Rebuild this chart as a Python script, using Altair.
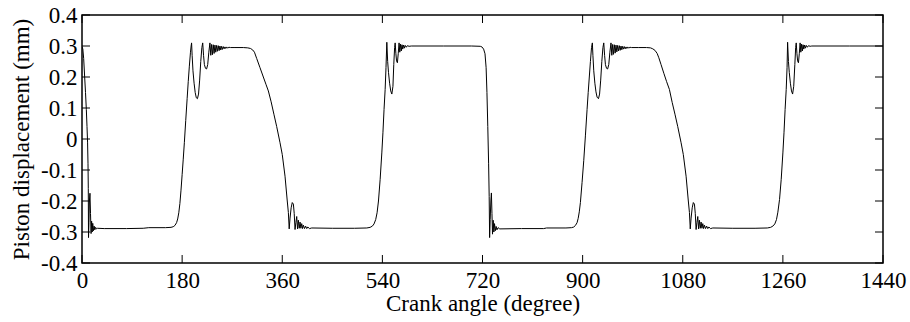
import altair as alt
import pandas as pd

# ---- data (crank angle in degrees, displacement in mm) ----
seg_drop_0 = [(0, 0.298), (1.5, 0.29), (3, 0.26), (4.8, 0.2), (6.3, 0.15), (7.8, 0.095), (9, 0.04),
              (10, -0.01), (10.8, -0.08), (11.3, -0.16), (11.7, -0.318), (12.5, -0.27), (13.3, -0.2),
              (14.3, -0.175), (15.3, -0.24), (16.3, -0.305), (17.3, -0.265), (18.3, -0.3), (19.3, -0.272),
              (20.5, -0.296), (21.8, -0.281), (23, -0.293), (24.5, -0.285), (26, -0.29), (28, -0.288)]
seg_rise_180 = [(40, -0.289), (80, -0.289), (110, -0.288), (120, -0.286), (150, -0.286), (160, -0.285),
                (164, -0.283), (167, -0.279), (170, -0.27), (172, -0.258), (174, -0.238), (176, -0.208),
                (178, -0.165), (180, -0.115), (182, -0.065), (184, -0.012), (186.5, 0.06), (189, 0.13),
                (191, 0.185), (193, 0.235), (195, 0.28), (196.2, 0.3), (197, 0.31)]
seg_ring_200 = [(198, 0.27), (199.5, 0.22), (201.5, 0.18), (203.5, 0.15), (205.5, 0.133), (207.5, 0.13),
                (209.5, 0.145), (211.5, 0.19), (213.5, 0.25), (215.5, 0.295), (217, 0.31), (218.5, 0.27),
                (220, 0.24), (222, 0.228), (224, 0.226), (226, 0.24), (228, 0.28), (230, 0.31),
                (231.5, 0.27), (233, 0.305), (234.5, 0.272), (236, 0.304), (237.5, 0.276), (239, 0.303),
                (240.5, 0.28), (242, 0.302), (243.5, 0.283), (245, 0.301), (246.5, 0.285), (248, 0.3),
                (249.5, 0.287), (251, 0.299), (252.5, 0.289), (254, 0.298), (255.5, 0.291), (257, 0.297),
                (258.5, 0.292), (260, 0.297), (262, 0.293), (264, 0.296), (267, 0.295)]
seg_fall_360 = [(275, 0.295), (290, 0.295), (298, 0.294), (303, 0.292), (307, 0.287), (310, 0.28),
                (314, 0.26), (320, 0.23), (326, 0.2), (331, 0.175), (335, 0.155), (340, 0.12),
                (345, 0.08), (350, 0.04), (356, -0.012), (360, -0.05), (365, -0.12), (369, -0.2),
                (371, -0.237), (372.5, -0.29)]
seg_ring_380 = [(374, -0.255), (376, -0.222), (378, -0.205), (380, -0.21), (381.5, -0.24), (383, -0.292),
                (384.5, -0.27), (386, -0.25), (387.5, -0.29), (389, -0.262), (390.5, -0.288),
                (392, -0.268), (393.5, -0.288), (395, -0.273), (396.5, -0.289), (398, -0.278),
                (400, -0.289), (402, -0.281), (404, -0.289), (406, -0.284), (409, -0.289), (413, -0.287)]
seg_rise_540 = [(450, -0.288), (490, -0.288), (512, -0.287), (518, -0.285), (522, -0.281), (525, -0.274),
                (528, -0.26), (530.5, -0.238), (533, -0.2), (536, -0.13), (539, -0.045), (541, 0.02),
                (543, 0.095), (545, 0.16), (546.5, 0.23), (548, 0.312)]
seg_ring_560 = [(549.5, 0.25), (551, 0.215), (553, 0.18), (555, 0.155), (557, 0.145), (559, 0.17),
                (560.5, 0.24), (562, 0.295), (563, 0.31), (564.3, 0.275), (565.5, 0.252), (567, 0.246),
                (568.5, 0.275), (570, 0.31), (571.3, 0.28), (572.6, 0.306), (574, 0.284), (575.3, 0.304),
                (576.6, 0.29), (578, 0.303), (579.5, 0.293), (581, 0.302), (583, 0.296), (585, 0.301),
                (588, 0.299), (592, 0.3)]
seg_drop_720 = [(650, 0.3), (700, 0.3), (716, 0.299), (719, 0.297), (722, 0.29), (724.5, 0.275),
                (726.5, 0.23), (728, 0.15), (729.5, 0.04), (731, -0.08), (732, -0.185), (732.8, -0.318),
                (733.8, -0.26), (735, -0.2), (736, -0.174), (737, -0.24), (738, -0.307), (739.2, -0.262),
                (740.4, -0.3), (741.6, -0.273), (743, -0.296), (744.5, -0.282), (746, -0.293),
                (748, -0.286), (751, -0.29)]
seg_rise_900 = [(790, -0.289), (830, -0.289), (835, -0.287), (870, -0.287), (880, -0.286), (884, -0.284),
                (887, -0.279), (890, -0.27), (892, -0.256), (894, -0.235), (896, -0.205), (899, -0.14),
                (902, -0.07), (905, 0.01), (908, 0.095), (910, 0.15), (912, 0.2), (914, 0.25),
                (916, 0.295), (917.5, 0.31)]
seg_ring_920 = [(918.5, 0.27), (920, 0.22), (922, 0.18), (924, 0.152), (926, 0.135), (928.5, 0.13),
                (930.5, 0.145), (932.5, 0.19), (934.5, 0.25), (936.5, 0.295), (938, 0.31), (939.5, 0.27),
                (941, 0.24), (943, 0.228), (945, 0.226), (947, 0.24), (949, 0.28), (951, 0.31),
                (952.5, 0.27), (954, 0.305), (955.5, 0.273), (957, 0.304), (958.5, 0.277), (960, 0.303),
                (961.5, 0.281), (963, 0.302), (964.5, 0.284), (966, 0.301), (967.5, 0.286), (969, 0.3),
                (970.5, 0.288), (972, 0.299), (973.5, 0.29), (975, 0.298), (976.5, 0.291), (978, 0.297),
                (979.5, 0.292), (981, 0.297), (983, 0.293), (985, 0.296), (988, 0.295)]
seg_fall_1080 = [(1000, 0.295), (1015, 0.295), (1022, 0.294), (1026, 0.291), (1030, 0.286), (1034, 0.276),
                 (1037, 0.262), (1041, 0.24), (1046, 0.212), (1051, 0.185), (1056, 0.16), (1061, 0.118),
                 (1066, 0.08), (1071, 0.04), (1077, -0.012), (1081, -0.05), (1086, -0.12), (1090, -0.2),
                 (1092, -0.237), (1093.5, -0.29)]
seg_ring_1100 = [(1095, -0.255), (1097, -0.222), (1099, -0.205), (1101, -0.21), (1102.5, -0.24),
                 (1104, -0.292), (1105.5, -0.27), (1107, -0.25), (1108.5, -0.29), (1110, -0.262),
                 (1111.5, -0.288), (1113, -0.268), (1114.5, -0.288), (1116, -0.273), (1117.5, -0.289),
                 (1119, -0.278), (1121, -0.289), (1123, -0.281), (1125, -0.289), (1127, -0.284),
                 (1130, -0.289), (1134, -0.287)]
seg_rise_1260 = [(1170, -0.288), (1210, -0.288), (1232, -0.287), (1238, -0.285), (1242, -0.281),
                 (1245.5, -0.274), (1248.5, -0.26), (1251, -0.236), (1254, -0.195), (1257, -0.13),
                 (1260, -0.045), (1262, 0.02), (1264, 0.095), (1266, 0.16), (1267.5, 0.23), (1268.5, 0.312)]
seg_ring_1280 = [(1270, 0.25), (1271.5, 0.215), (1273.5, 0.18), (1275.5, 0.155), (1277.5, 0.145),
                 (1279.5, 0.17), (1281.5, 0.24), (1283, 0.295), (1284, 0.31), (1285.3, 0.275),
                 (1286.5, 0.252), (1288, 0.246), (1289.5, 0.275), (1291, 0.31), (1292.3, 0.28),
                 (1293.6, 0.306), (1295, 0.284), (1296.3, 0.304), (1297.6, 0.29), (1299, 0.303),
                 (1300.5, 0.293), (1302, 0.302), (1304, 0.296), (1306, 0.301), (1309, 0.299),
                 (1312, 0.3), (1380, 0.3), (1440, 0.3)]

x_tick_values = [0, 180, 360, 540, 720, 900, 1080, 1260, 1440]
y_tick_values = [-0.4, -0.3, -0.2, -0.1, 0, 0.1, 0.2, 0.3, 0.4]

segments = [seg_drop_0, seg_rise_180, seg_ring_200, seg_fall_360, seg_ring_380, seg_rise_540,
            seg_ring_560, seg_drop_720, seg_rise_900, seg_ring_920, seg_fall_1080, seg_ring_1100,
            seg_rise_1260, seg_ring_1280]
df = pd.DataFrame({
    "angle": [p[0] for s in segments for p in s],
    "disp": [p[1] for s in segments for p in s],
})

W, H = 801, 248
FONT = "Liberation Serif"
FS = 23
TICK = 8

xscale = alt.Scale(domain=[0, 1440], nice=False, zero=False)
yscale = alt.Scale(domain=[-0.4, 0.4], nice=False, zero=False)

x_axis = alt.Axis(values=x_tick_values, title="Crank angle (degree)", ticks=False, domain=False,
                  grid=False, labelFont=FONT, labelFontSize=FS, labelColor="black",
                  labelPadding=24.5, labelBaseline="alphabetic", labelFlush=False,
                  labelOverlap=False, format="d",
                  titleFont=FONT, titleFontSize=FS, titleFontWeight="normal", titleColor="black",
                  titleBaseline="alphabetic", titleY=47.5)
y_axis = alt.Axis(values=y_tick_values, title="Piston displacement (mm)", ticks=False, domain=False,
                  grid=False, labelFont=FONT, labelFontSize=FS, labelColor="black",
                  labelPadding=5, labelOverlap=False, labelFlush=False,
                  labelExpr="abs(datum.value) < 1e-9 ? '0' : (datum.value < 0 ? '-' : '') + format(abs(datum.value), '.1f')",
                  titleFont=FONT, titleFontSize=FS, titleFontWeight="normal", titleColor="black",
                  titleX=-49, titleY=H / 2)

line = alt.Chart(df).mark_line(color="black", strokeWidth=1, clip=True).encode(
    x=alt.X("angle:Q", scale=xscale, axis=x_axis, title="Crank angle (degree)"),
    y=alt.Y("disp:Q", scale=yscale, axis=y_axis, title="Piston displacement (mm)"),
)

xt = pd.DataFrame({"angle": x_tick_values})
yt = pd.DataFrame({"disp": y_tick_values})

top_ticks = alt.Chart(xt).mark_rule(color="black", strokeWidth=1).encode(
    x=alt.X("angle:Q", scale=xscale, axis=x_axis, title="Crank angle (degree)"),
    y=alt.value(0), y2=alt.value(TICK))
bottom_ticks = alt.Chart(xt).mark_rule(color="black", strokeWidth=1).encode(
    x=alt.X("angle:Q", scale=xscale, axis=x_axis, title="Crank angle (degree)"),
    y=alt.value(H), y2=alt.value(H - TICK))
left_ticks = alt.Chart(yt).mark_rule(color="black", strokeWidth=1).encode(
    y=alt.Y("disp:Q", scale=yscale, axis=y_axis, title="Piston displacement (mm)"),
    x=alt.value(0), x2=alt.value(TICK))
right_ticks = alt.Chart(yt).mark_rule(color="black", strokeWidth=1).encode(
    y=alt.Y("disp:Q", scale=yscale, axis=y_axis, title="Piston displacement (mm)"),
    x=alt.value(W - TICK), x2=alt.value(W))

chart = alt.layer(line, top_ticks, bottom_ticks, left_ticks, right_ticks).properties(
    width=W, height=H,
    padding={"left": 82, "top": 15, "right": 27, "bottom": 59},
    autosize=alt.AutoSizeParams(type="none"),
    background="white",
).configure_view(stroke="black", strokeWidth=1.5)

chart.save("out.html", embed_options={"renderer": "svg", "actions": False})
